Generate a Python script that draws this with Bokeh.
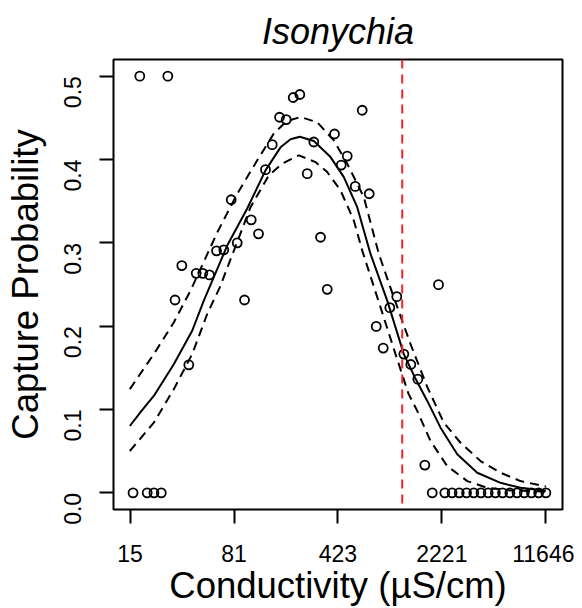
import math
from bokeh.plotting import figure
from bokeh.models import FixedTicker, Range1d, Span, PrintfTickFormatter
from bokeh.embed import file_html
from bokeh.resources import INLINE

# ---- data ----
# observed capture proportions
pt_x = [18.04, 28.19, 207.9, 231.0, 167.2, 186.0, 401.5, 491.6, 148.8, 288.7,
        446.8, 133.7, 259.9, 77.42, 106.5, 119.6, 321.2, 85.2, 61.25, 68.79,
        35.24, 44.33, 49.24, 54.79, 357.5, 31.62, 95.7, 624.3, 558.5, 698.1,
        2105, 1083, 969.2, 780.4, 872.4, 1211.5, 1354, 1514, 1693, 39.39]
pt_y = [0.5, 0.5, 0.4744, 0.478, 0.4507, 0.4479, 0.4306, 0.4041, 0.4178, 0.421,
        0.3933, 0.3878, 0.383, 0.3517, 0.3276, 0.3108, 0.3067, 0.300, 0.2904, 0.2916,
        0.2727, 0.2634, 0.2634, 0.2615, 0.2442, 0.2314, 0.2314, 0.4591, 0.3677, 0.3589,
        0.2498, 0.2354, 0.2222, 0.1997, 0.1737, 0.1665, 0.154, 0.1364, 0.0333, 0.1536]
zero_x = [16.2, 20.3, 22.6, 25.4, 1905, 2328, 2612, 2929, 3290, 3690, 4140, 4643,
          5207, 5841, 6559, 7357, 8252, 9254, 10380, 11646]
zero_y = [0.0] * len(zero_x)

# fitted curve
fit_x = [15.39, 18.54, 22.55, 31.01, 41.57, 50.03, 72.63, 99.9, 133.7, 169.8,
         199.2, 231.0, 288.7, 376.7, 465.7, 576.5, 712.5, 929.9, 1211.5, 1459.6,
         1759, 2174, 2837, 3902, 5655, 7780, 11646]
fit_y = [0.0802, 0.0983, 0.1163, 0.1544, 0.1945, 0.2306, 0.2967, 0.3412, 0.3869, 0.4146,
         0.4242, 0.4272, 0.4222, 0.4029, 0.3789, 0.3428, 0.2867, 0.2306, 0.1665, 0.1368,
         0.1103, 0.0782, 0.0462, 0.0241, 0.0120, 0.0060, 0.0026]
# upper confidence band
up_x = [15.39, 22.55, 31.01, 40.48, 61.94, 85.20, 117.2, 152.6, 186.8, 233.6,
        304.8, 397.1, 491.6, 640.5, 813.5, 1033, 1348, 1759, 2291, 2990,
        4113, 5655, 7780, 11646]
up_y = [0.1244, 0.1665, 0.2045, 0.2426, 0.3124, 0.3589, 0.3990, 0.4311, 0.4459, 0.4510,
        0.4447, 0.4230, 0.3950, 0.3548, 0.2867, 0.2345, 0.1785, 0.1271, 0.0842, 0.0601,
        0.0381, 0.0241, 0.0141, 0.0075]
# lower confidence band
lo_x = [15.39, 22.55, 31.01, 41.57, 52.8, 64.55, 85.20, 105.3, 140.9, 174.5,
        227.4, 296.6, 357.5, 441.8, 546.1, 624.3, 835.9, 1061, 1306, 1500,
        1854, 2418, 3328, 4576, 6632, 11646]
lo_y = [0.0502, 0.0842, 0.1244, 0.1665, 0.2146, 0.2466, 0.3011, 0.3428, 0.3809, 0.3950,
        0.4050, 0.3969, 0.3849, 0.3629, 0.3268, 0.2907, 0.2225, 0.1665, 0.1187, 0.0983,
        0.0622, 0.0321, 0.0141, 0.0060, 0.0029, 0.0014]

threshold = 1181

x_ticks = [15.45, 81.0, 424.0, 2221.0, 11646.0]
x_tick_labels = ["15", "81", "423", "2221", "11646"]
y_ticks = [0.0, 0.1, 0.2, 0.3, 0.4, 0.5]

FONT = "Liberation Sans"

p = figure(width=574, height=608, x_axis_type="log",
           x_range=Range1d(10 ** 1.0743, 10 ** 4.1812),
           y_range=Range1d(-0.02, 0.52),
           output_backend="svg", toolbar_location=None,
           min_border_left=113, min_border_right=12,
           min_border_top=59, min_border_bottom=99)

p.title.text = "Isonychia"
p.title.text_font = FONT
p.title.text_font_style = "italic"
p.title.text_font_size = "36px"
p.title.align = "center"
p.title.text_color = "black"
p.title.standoff = 15

p.grid.visible = False
p.outline_line_color = "black"
p.outline_line_width = 2
p.background_fill_color = "white"
p.border_fill_color = "white"

# x axis
p.xaxis.ticker = FixedTicker(ticks=x_ticks, minor_ticks=[])
p.xaxis.major_label_overrides = {t: l for t, l in zip(x_ticks, x_tick_labels)}
p.xaxis.axis_label = "Conductivity (µS/cm)"

# y axis
p.yaxis.ticker = FixedTicker(ticks=y_ticks, minor_ticks=[])
p.yaxis.formatter = PrintfTickFormatter(format="%.1f")
p.yaxis.major_label_orientation = math.pi / 2
p.yaxis.axis_label = "Capture Probability"

for ax in (p.xaxis, p.yaxis):
    ax.axis_line_color = None
    ax.major_tick_in = 0
    ax.major_tick_out = 14
    ax.major_tick_line_width = 2
    ax.major_tick_line_color = "black"
    ax.minor_tick_line_color = None
    ax.major_label_text_font = FONT
    ax.major_label_text_font_size = "23px"
    ax.major_label_text_color = "black"
    ax.axis_label_text_font = FONT
    ax.axis_label_text_font_size = "36.5px"
    ax.axis_label_text_font_style = "normal"
    ax.axis_label_text_color = "black"

p.xaxis.major_label_standoff = 21
p.xaxis.axis_label_standoff = 0
p.yaxis.major_label_standoff = 27
p.yaxis.axis_label_standoff = 7

# curves
p.line(fit_x, fit_y, line_color="black", line_width=2)
p.line(up_x, up_y, line_color="black", line_width=2, line_dash="9 6")
p.line(lo_x, lo_y, line_color="black", line_width=2, line_dash="9 6")

# threshold
p.add_layout(Span(location=threshold, dimension="height", line_color="#E8262B",
                  line_width=2, line_dash="9 6"))

# points
p.scatter(pt_x, pt_y, size=9, marker="circle", fill_color=None,
          line_color="black", line_width=1.8)
p.scatter(zero_x, zero_y, size=9, marker="circle", fill_color=None,
          line_color="black", line_width=1.8)

open("out.html", "w").write(file_html(p, INLINE))
